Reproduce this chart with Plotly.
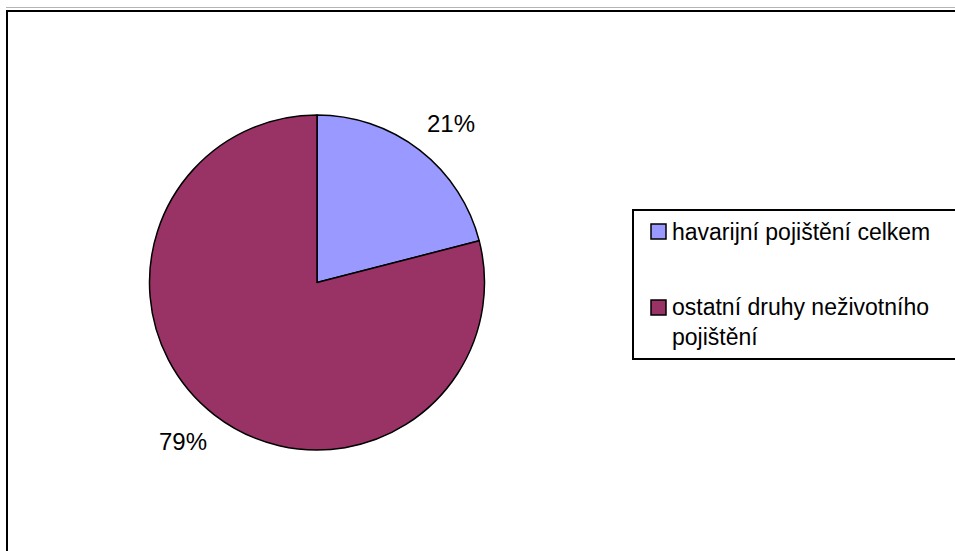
import math
import plotly.graph_objects as go

# ---- data ----
labels = ["havarijní pojištění celkem", "ostatní druhy neživotního pojištění"]
legend_texts = ["havarijní pojištění celkem", "ostatní druhy neživotního<br>pojištění"]
values = [21, 79]
colors = ["#9999FF", "#993366"]

W, H = 955, 551
FONT = "Liberation Sans, Arial, sans-serif"
LABEL_SIZE = 24

# pie geometry (pixels)
cx, cy, r = 317, 282.5, 167.5

def px(x):
    return x / W

def py(y):
    return 1 - y / H

fig = go.Figure(
    go.Pie(
        values=values,
        labels=labels,
        marker=dict(colors=colors, line=dict(color="black", width=1.5)),
        sort=False,
        direction="clockwise",
        rotation=0,
        textinfo="none",
        showlegend=False,
        hoverinfo="label+percent",
        domain=dict(x=[px(cx - r), px(cx + r)], y=[py(cy + r), py(cy - r)]),
    )
)

annotations = []
shapes = []

# percentage labels: placed just outside each slice's mid-angle,
# shifted outward by half the label extents
total = sum(values)
cum = 0
for v in values:
    mid = (cum + v / 2) / total * 2 * math.pi
    cum += v
    s, c = math.sin(mid), math.cos(mid)
    txt = f"{round(v / total * 100)}%"
    R = r * 1.071
    half_w = 0.5 * 2.0 * LABEL_SIZE   # "NN%" ~ 2 em wide
    pad_h = 17.5
    lx = cx + R * s + math.copysign(half_w, s)
    ly = cy - R * c - math.copysign(pad_h, c)
    annotations.append(dict(
        x=px(lx), y=py(ly), xref="paper", yref="paper",
        text=txt, showarrow=False,
        xanchor="center", yanchor="middle",
        font=dict(family=FONT, size=LABEL_SIZE, color="black"),
    ))

def hline(x0, x1, y, color="black", width=2):
    shapes.append(dict(type="line", xref="paper", yref="paper",
                       x0=max(0, px(x0)), x1=min(1, px(x1)), y0=py(y), y1=py(y),
                       line=dict(color=color, width=width)))

def vline(x, y0, y1, color="black", width=2):
    shapes.append(dict(type="line", xref="paper", yref="paper",
                       x0=px(x), x1=px(x), y0=min(1, py(y0)), y1=max(0, py(y1)),
                       line=dict(color=color, width=width)))

# outer frame (right/bottom sides lie outside the picture)
hline(6, 955, 7.5, color="#b4b4b4", width=1.2)
hline(6, 955, 11)
vline(7, 10, 551)

# legend box (right side lies outside the picture)
hline(632, 955, 210)
hline(632, 955, 359)
vline(633, 209, 360)

item_y = [231.5, 307.5]
text_y = [232, 321.5]
for i, (t, col) in enumerate(zip(legend_texts, colors)):
    shapes.append(dict(type="rect", xref="paper", yref="paper",
                       x0=px(651), x1=px(666),
                       y0=py(item_y[i] - 7.5), y1=py(item_y[i] + 7.5),
                       line=dict(color="black", width=1.5), fillcolor=col))
    annotations.append(dict(
        x=px(670), y=py(text_y[i]), xref="paper", yref="paper",
        text=t, showarrow=False, xanchor="left", yanchor="middle", align="left",
        font=dict(family=FONT, size=23, color="black"),
    ))

fig.update_layout(
    width=W, height=H,
    margin=dict(l=0, r=0, t=0, b=0),
    paper_bgcolor="white", plot_bgcolor="white",
    shapes=shapes, annotations=annotations,
    showlegend=False,
)

# remove the default page margin so the figure fills the window exactly
fig.write_html(
    "out.html",
    config={"displayModeBar": False},
    post_script="document.body.style.margin='0';document.body.style.overflow='hidden';",
)
